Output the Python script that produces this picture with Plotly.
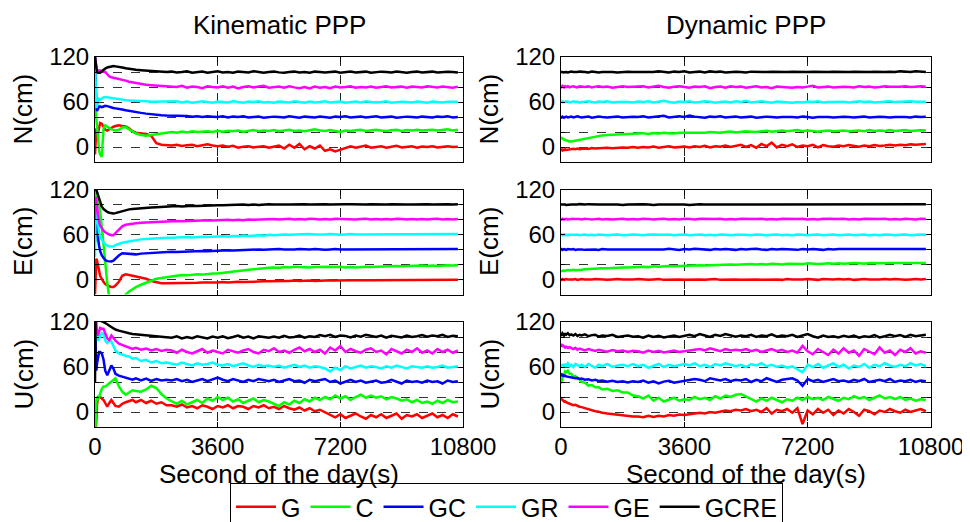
import plotly.graph_objects as go

# ---------------- data ----------------
# sampling times (s of the day, relative)
t_s = [0, 20, 40, 60, 90, 120, 150, 200, 250,
       300, 360, 420, 480, 540, 600, 700, 800, 900,
       1000, 1100, 1200, 1350, 1500, 1650, 1800, 1950, 2100,
       2250, 2400, 2550, 2700, 2850, 3000, 3150, 3300, 3450, 3600,
       3750, 3900, 4050, 4200, 4350, 4500, 4650, 4800, 4950, 5100,
       5250, 5400, 5550, 5700, 5850, 6000, 6150, 6300, 6450, 6600,
       6750, 6900, 7050, 7200, 7350, 7500, 7650, 7800, 7950, 8100,
       8250, 8400, 8550, 8700, 8850, 9000, 9150, 9300, 9450, 9600,
       9750, 9900, 10050, 10200, 10350, 10500, 10650]

series_names = ["G", "C", "GC", "GR", "GE", "GCRE"]
# display offsets (cm) used to stack the series
offsets = [0, 20, 40, 60, 80, 100]
x_tick_vals = [0, 3600, 7200, 10800]
x_tick_text = ["0", "3600", "7200", "10800"]
y_tick_vals = [0, 20, 40, 60, 80, 100, 120]
y_tick_text = ["0", "", "", "60", "", "", "120"]
row_labels = ["N(cm)", "E(cm)", "U(cm)"]
col_titles = ["Kinematic PPP", "Dynamic PPP"]
x_title = "Second of the day(s)"

# ---- Kinematic PPP, N (errors in cm) ----
kin_N_G = [-10, 15, 25, 12, 20, 28, 32, 31, 27,
           23, 22, 24, 26, 27, 28, 29, 28, 27.5,
           25, 21, 19, 18, 17.5, 15, 5, 3, 2.5,
           2, 3, 1.5, 2.5, 3, 1, 2, 3.5, 2, 1,
           2, 0.5, 1.5, -1, 0.5, 1, -0.5, 0, 1, -1,
           0, 2, -2, 3, -1, 4, -3, 1, -2, 2,
           -5, -3, -6, -4, -2, 1, -1, 0, 2, -1,
           0, 1, -1, 0.5, 1.5, -0.5, 0, 1, -1, 0.5,
           0, 1, -0.5, 0, 1, 0, 0.5]
kin_N_C = [40, 30, 15, 0, -15, -25, -30, -33, 5,
           9, 7, 5, 3.5, 3, 2, 3, 6, 6.5,
           4, 1, -2, -4, -5, -4, -3, -1.5, -1,
           0, -1, 0.5, -0.5, 1, 0, 0.5, 1, 0, 1.5,
           0.5, 1.5, 1, 2, 0.5, 1.5, 2.5, 1, 2, 1.5,
           2.5, 1, 2, 3, 1.5, 2, 1, 2.5, 3.5, 2,
           1.5, 2.5, 1, 0, 2, 1.5, 2.5, 3, 1.5, 2,
           3, 2, 1.5, 2.5, 3, 1.5, 2.5, 2, 3, 2,
           2.5, 3, 2, 2.5, 3.5, 2, 3]
kin_N_GC = [80, 40, 15, 8, 12, 14, 14, 13, 14,
            15, 14.5, 14, 13, 12, 11.5, 11, 10, 9,
            8, 7, 6.5, 5.5, 4.5, 3.5, 3, 2.5, 2,
            2, 1.5, 1, 1.5, 0.5, 1, 0, 1, 0.5, 0,
            1, -0.5, 0.5, 0, 1, -0.5, 0, 0.5, -1, 0,
            0.5, 0, -0.5, 1, 0, -1, 0.5, 0, -0.5, 0.5,
            0, -1, 0.5, 0, 1, -0.5, 0, 0.5, -0.5, 0,
            1, -0.5, 0, 0.5, -1, 0, 0.5, 0, -0.5, 0.5,
            0, -0.5, 0.5, 0, 1, -0.5, 0]
kin_N_GR = [55, 20, -8, -5, 2, 4, 3, 5, 6,
            6.5, 6, 5.5, 5, 4.5, 4, 3.5, 3, 2.5,
            2, 2, 1.5, 1, 1, 0.5, 0.5, 0, 0.5,
            0, 1, -0.5, 0.5, -1, 0, 1, 0, -1, 0.5,
            0, -0.5, 1, 0, -1, 0.5, 0, 1, -0.5, 0,
            -1, 0.5, 0, -0.5, 1, 0, -1, 0.5, -0.5, 0,
            1, -0.5, 0, 0.5, -1, 0, 0.5, -0.5, 1, 0,
            -0.5, 0, 1, -1, 0, 0.5, 0, -0.5, 0.5, 0,
            -1, 0.5, 0, -0.5, 0.5, 0, 0.5]
kin_N_GE = [40, 30, 25, 22, 22, 23, 22, 21, 20,
            20, 17, 14, 13, 12.5, 12, 11, 9.5, 8.5,
            7, 6, 5, 4, 3, 2.5, 2, 1.5, 1,
            1, 0, 1.5, -1, 0.5, 0, -1.5, 1, 0, -0.5,
            1, -1, 0.5, -2, 0, 1, -0.5, 0, 1.5, -1,
            0, 0.5, -1, 1, -0.5, -1.5, 0, -2, 0.5, -1,
            0, -1.5, 0.5, -0.5, 0, 1, -1, 0, -0.5, 0.5,
            -1, 0, 1, -0.5, 0, 0.5, -1, 0.5, 0, -0.5,
            1, 0, -0.5, 0.5, 0, -1, 0.5]
kin_N_GCRE = [20, 12, 4, 0, -1, -1.5, -1, 1, 3,
              4.5, 6, 7, 7.5, 8, 7.5, 7, 6, 5,
              4, 3.5, 3, 2.5, 2, 1, 0.5, 1, 0,
              0.5, -0.5, 0, 1, -1, 0, 0.5, -1, 0, 1,
              -0.5, 0, -1, 0.5, 0, -0.5, 1, 0, -1, 0,
              0.5, -0.5, -1, 0, 0.5, -0.5, 0, -1, 0.5, 0,
              -0.5, 0, 0.5, -1, 0, 0.5, -0.5, 0, 0.5, -1,
              0, 0.5, 0, -0.5, 0.5, 0, -1, 0, 0.5, -0.5,
              0, 0.5, -0.5, 0, 0.5, 0, -0.5]

# ---- Kinematic PPP, E ----
kin_E_G = [-20, 25, 28, 25, 20, 12, 5, 0, -3,
           -6, -8, -9, -10, -10, -8, -3, 5, 7,
           6, 5, 4.5, 3, 1, -2, -4, -5, -5,
           -5, -5.5, -5, -4.5, -5, -4.5, -4, -4.5, -4, -4,
           -3.5, -4, -3.5, -3, -3.5, -3, -2.5, -3, -2.5, -2.5,
           -2, -2.5, -2, -2, -1.5, -2, -1.5, -1.5, -2, -1.5,
           -1.5, -1, -1.5, -1, -1.5, -1, -1, -1.5, -1, -1,
           -1, -1.5, -1, -0.5, -1, -1, -0.5, -1, -1, -0.5,
           -1, -0.5, -1, -1, -0.5, -1, -0.5]
kin_E_C = [30, 100, 100, 95, 88, 80, 72, 50, 25,
           0, -25, -45, -55, -60, -60, -55, -47, -40,
           -36, -33, -30, -27, -24, -21, -19, -18, -17,
           -15.5, -15, -14, -14.5, -13.5, -13, -13.5, -12.5, -12, -12,
           -11, -10, -9.5, -8.5, -8, -7, -6.5, -5.5, -5, -4.5,
           -4, -4.5, -3.5, -4, -3, -3.5, -3, -4, -3.5, -3,
           -2.5, -3, -3.5, -3, -4, -3.5, -4, -3.5, -3, -3.5,
           -3, -2.5, -3, -2.5, -2, -2.5, -2, -2.5, -2, -1.5,
           -2, -1.5, -2, -1.5, -1, -1.5, -1]
kin_E_GC = [10, 50, 45, 30, 15, 5, -2, -8, -12,
            -14, -15.5, -16, -16, -15, -12, -8, -5, -5.5,
            -6.5, -7, -6.5, -5.5, -5, -4.5, -4, -4, -3.5,
            -3, -3.5, -3, -2.5, -3, -2.5, -2, -2.5, -2, -1.5,
            -1.5, -1, -1.5, -1, -0.5, -1, -0.5, 0, -0.5, 0,
            0, 0.5, 0, -0.5, 0, 0.5, 0, 0, 0.5, 0,
            -0.5, 0, 0.5, 0, 0, 0.5, 0, -0.5, 0, 0.5,
            0, 0, 0.5, 0, -0.5, 0, 0.5, 0, 0, 0.5,
            0, -0.5, 0, 0.5, 0, 0, 0.5]
kin_E_GR = [-30, 40, 35, 25, 12, 3, -3, -8, -11,
            -13, -15, -16, -16, -16, -14, -12, -11, -10,
            -9, -8, -7, -6.5, -6, -5.5, -5, -5, -4.5,
            -4.5, -4, -4, -3.5, -4, -3.5, -3, -3.5, -3, -3,
            -2.5, -3, -2, -2.5, -1.5, -2, -1.5, -1, -1.5, -0.5,
            -1, -0.5, 0, -0.5, 0, -0.5, 0, 0.5, 0, -0.5,
            0, 0.5, 0, -0.5, 0, 0.5, 0, 0, 0.5, 0,
            0, 0.5, 0, 0, -0.5, 0, 0.5, 0, 0, 0.5,
            0, -0.5, 0, 0.5, 0, 0, 0.5]
kin_E_GE = [0, 30, 24, 15, 5, -3, -8, -12, -15,
            -17, -19, -20, -21, -21, -18, -13, -9, -7,
            -6, -5.5, -5, -4.5, -4, -3.5, -3.5, -3, -3,
            -2.5, -2, -2.5, -2, -1.5, -2, -1.5, -1, -1.5, -1,
            -1.5, -0.5, -1, -0.5, -1, 0, -0.5, 0, -0.5, 0,
            0.5, 0, 0.5, 1, 0, 0.5, 0, 1, 0.5, 0,
            0.5, 0, 1, 0.5, 0, 0.5, 0, 0.5, 1, 0,
            0.5, 0, 0.5, 0, 1, 0.5, 0, 0.5, 0, 0.5,
            0, 0.5, 1, 0, 0.5, 0, 0.5]
kin_E_GCRE = [25, 22, 20, 17, 12, 7, 3, -3, -6,
              -8, -10, -11, -12, -12, -11.5, -10, -8.5, -7.5,
              -6.5, -6, -5.5, -5, -4.5, -4, -3.5, -3, -3,
              -2.5, -2, -2.5, -2, -1.5, -2, -1.5, -1, -1.5, -1,
              -1, -0.5, -1, -0.5, 0, -0.5, 0, -0.5, 0, 0.5,
              0, 0.5, 0, 0, 0.5, 0, 0.5, 0, 0.5, 0,
              0.5, 0, 0.5, 0, 0.5, 0.5, 0, 0.5, 0, 0.5,
              0, 0.5, 0, 0.5, 0, 0.5, 0, 0, 0.5, 0,
              0.5, 0, 0.5, 0, 0.5, 0, 0.5]

# ---- Kinematic PPP, U ----
kin_U_G = [-40, -30, -10, 10, 20, 20, 20, 18, 16,
           12, 7, 12, 16, 12, 8, 7, 11, 13,
           14, 16, 13, 16, 12, 15, 11, 13, 9,
           9, 7, 10, 6, 8, 5, 9, 7, 4, 8,
           6, 9, 5, 8, 7, 4, 8, 6, 9, 5,
           7, 4, 8, 5, 3, 6, 2, 5, 1, 3,
           0, -4, -7, -3, -8, -5, -2, -6, -9, -4,
           -7, -3, -8, -5, -2, -9, -4, -6, -3, -8,
           -5, -2, -7, -4, -8, -3, -6]
kin_U_C = [-60, -20, -5, 0, -4, 0, 5, 11, 14,
           14, 16, 18, 20, 23, 25, 14, 7, 3,
           6, 9, 8, 7, 10, 15, 12, 4, -2,
           -6, -9, -5, -10, -7, -4, -8, -2, -5, 0,
           -4, -1, -6, -3, -8, -5, -2, -7, -4, -6,
           -9, -12, -7, -10, -5, -8, -3, -6, -1, -4,
           0, -3, 2, -2, 1, -4, 0, 3, -1, 2,
           -1, 1, -3, 0, -2, -5, -3, -7, -4, -8,
           -6, -9, -5, -8, -4, -7, -6]
kin_U_GC = [80, 30, 15, 25, 35, 40, 40, 38, 30,
            15, 9, 15, 22, 18, 11, 8.5, 7, 6,
            5, 3, 5, 2, 4.5, 1.5, 4, 2, 3,
            2, 4, 1, 3, 0, 2, 4, 1, 3, 6,
            3, 1, 4, 2, 0, 3, 1, 4, 2, 1,
            3, 0, 2, 4, 1, 2, -1, 3, 1, 2,
            4, 0, 2, -2, 1, 3, 0, 2, -1, 1,
            2, -1, 0, 3, 1, -2, 2, 0, 1, -1,
            2, 0, 1, -2, 2, 0, 1]
kin_U_GR = [40, 55, 45, 40, 35, 38, 42, 45, 44,
            35, 32, 36, 34, 28, 22, 18, 16, 15,
            14, 11, 12, 8, 9.5, 6, 8, 5, 6,
            5, 3, 6, 4, 2, 5, 3, 4, 6, 3,
            2, 4, 1, 3, 5, 2, 0, 3, 1, 2,
            0, 2, -1, 1, 3, 0, 2, -1, 1, 0,
            -2, -6, -1, -4, 1, -2, 0, 2, -1, 1,
            0, -2, 1, -1, 2, 0, -2, 1, 0, -1,
            1, -1, 0, 2, -1, 0, 1]
kin_U_GE = [30, 60, 40, 25, 22, 28, 32, 31, 31,
            25, 18, 16, 22, 19, 15, 11, 9, 7,
            6, 4, 5.5, 3, 4.5, 2, 4, 1.5, 3,
            2, -1, 3, 0, -2, 1, 4, -1, 2, 0,
            -2, 3, 1, -1, 2, 4, 0, -2, 3, 1,
            5, 0, 2, -1, 3, 6, 1, 4, 0, 3,
            -2, 6, 2, 8, 0, 4, 1, -1, 3, 5,
            0, 2, -3, 4, 1, -2, 3, 0, 5, -1,
            2, -2, 4, 0, 3, -1, 2]
kin_U_GCRE = [-60, 40, 30, 24, 23, 22, 22, 21, 20,
              18, 17, 15, 13, 12, 10, 8.5, 7, 6,
              5, 4, 3.5, 3, 2, 1.5, 1, 0, -0.5,
              -1, 1, -2, 0, -1.5, 1, -1, -2, 0.5, -1,
              1, -1.5, 0, 2, -1, 0.5, -2, 1, 0, -1,
              0.5, -1, 1.5, -0.5, 0, 2, -1, 1, 0, 2.5,
              1, 3, 0, 2, 1.5, -0.5, 2, 0.5, 3, 1,
              0, 2, -1, 1.5, 0.5, -0.5, 2, 0, 1, 2.5,
              0.5, 2, 1, 3, 0, 1.5, 1]

# ---- Dynamic PPP, N ----
dyn_N_G = [-4, -3.5, -4.5, -3.5, -4, -3, -4, -3.5, -3,
           -3.5, -2.5, -3, -2, -3, -2.5, -2, -2.5, -1.5,
           -2, -1.5, -2, -1, -1.5, -1, -0.5, -1, 0,
           -1, 0, -0.5, 0.5, -1, 0, 1, -0.5, 0, 0.5,
           -0.5, 1, 0, 1.5, -0.5, 1, 0.5, 2, 0, 1.5,
           3, 0, 2.5, -1, 4, 1, 6, -0.5, 3, 1,
           3.5, 0, 2, 1, 3, -0.5, 2.5, 1, 0.5, 2,
           1, 2.5, 1.5, 0.5, 2, 1, 2.5, 1.5, 2, 3,
           2, 3, 2.5, 3.5, 3, 4, 4]
dyn_N_C = [-7, -8, -9, -9.5, -10, -10.5, -11, -12, -12.5,
           -12.5, -12, -11.5, -11, -10, -9.5, -8.5, -7.5, -6.5,
           -6, -5, -4.5, -4, -3.5, -3, -3, -2.5, -2.5,
           -2, -1.5, -2.5, -1.5, -2, -1, -1.5, -2, -1, -1,
           -0.5, -1.5, -0.5, -1, 0, -0.5, -1, 0, 0.5, -0.5,
           0, 1, 0.5, 0, 1, 1.5, 0.5, 1, 2, 1,
           1.5, 2.5, 1, 2, 1.5, 0.5, 1.5, 2, 1, 1.5,
           2, 1, 1.5, 2, 1, 2.5, 1.5, 2, 1.5, 2.5,
           1.5, 2, 2.5, 1.5, 2, 2.5, 2]
dyn_N_GC = [0, -0.5, 0.5, 0, -1, 0, 0.5, -0.5, 0,
            0.5, -0.5, 0, 1, 0, -0.5, 0, 0.5, -1,
            0, 0.5, 0, -0.5, 0, 0.5, -0.5, 0, 0.5,
            0, 1, -0.5, 0, 0.5, 1.5, -0.5, 0, 1, 0,
            2, 0.5, 0, -1, 0.5, 0, 1, -0.5, 0, 0.5,
            -0.5, 0, 0.5, -1, 0, 0.5, 0, -0.5, 0, 0.5,
            0, -0.5, 0.5, 0, -1, 0, 0.5, 0, -0.5, 0,
            0.5, 0, -0.5, 0, 0.5, -0.5, 0, 0.5, 0, -0.5,
            0, 0.5, 0, -0.5, 0.5, 0, 0.5]
dyn_N_GR = [0.5, 1, 0, 0.5, -0.5, 0, 1, 0.5, -0.5,
            0, 1, 0, 0.5, -1, 0, 0.5, 1, 0,
            -0.5, 0.5, 0, 1, -0.5, 0, 0.5, 0, -0.5,
            0.5, 0, 1, -0.5, 0, 1.5, 0, -1, 0.5, 0,
            1, -0.5, 0, 1, 0.5, -1, 0, 0.5, -0.5, 1,
            0, 1.5, -0.5, 0, 1, 0, -1, 0.5, 0, -0.5,
            -1, 0, -0.5, 0.5, 0, 1, -0.5, 0, 0.5, 0,
            0.5, -0.5, 0, 1, 0, 0.5, -0.5, 0, 0.5, 1,
            0, 0.5, 0, 1, 0.5, 0, 0.5]
dyn_N_GE = [1, 0, 1.5, 0.5, -0.5, 1, 0, 1, -0.5,
            0.5, 1, 0, -0.5, 1, 0.5, 0, 1, -0.5,
            0.5, 1, 0, 0.5, -1, 0.5, 1, 0, 0.5,
            0, 1, -0.5, 0.5, 1.5, 0, -1, 0.5, 1, 0,
            -1, 0.5, 0, 1, -1.5, 0, 0.5, -1, 1, 0,
            0.5, -1, 0, 1, -0.5, 0, -1.5, 0.5, 0, -0.5,
            -1, 0, -0.5, 0.5, 1.5, -0.5, 0, 0.5, -0.5, 0,
            0.5, 0, -0.5, 1, 0, 0.5, -0.5, 0, 1, 0.5,
            0, 0.5, 1, 0, 0.5, 1, 0.5]
dyn_N_GCRE = [0, 0.5, 0, -0.5, 0, 0.5, 0, -0.5, 0,
              0.5, 0, -0.5, 0, 0.5, 0, 0, -0.5, 0.5,
              0, -0.5, 0, 0.5, 0, -0.5, 0, 0.5, 0,
              0, 0.5, -0.5, 0, 1, 0, -0.5, 0.5, 0, 1,
              -0.5, 0, 0.5, -0.5, 1, 0, 0.5, -0.5, 0, 0.5,
              0, -0.5, 0.5, 0, -0.5, 0, 0.5, 0, -0.5, 0,
              0.5, 0, -0.5, 0, 0.5, 0, -0.5, 0, 0.5, 0,
              -0.5, 0, 0.5, 0, -0.5, 0, 0.5, 0, 0, 0.5,
              0, 1, 0.5, 0, 1, 0.5, 0]

# ---- Dynamic PPP, E ----
dyn_E_G = [0, -0.5, 0.5, 0, -0.5, 0, 0.5, 0, -0.5,
           0, 0, 0.5, -0.5, 0, 0.5, 0, -0.5, 0,
           0.5, 0, 0, -0.5, 0, 0.5, 0, -0.5, 0,
           0.5, 0, -0.5, 0, 0.5, -0.5, 0, 0.5, 0, -0.5,
           0, 0.5, 0, -0.5, 0, 0.5, -0.5, 0, 0.5, 0,
           -0.5, 0, 0.5, 0, -0.5, 0, 0.5, 0, -0.5, 0.5,
           0, -0.5, 0, 0.5, 0, -0.5, 0.5, 0, 0, 0.5,
           0, 0.5, -0.5, 0, 0.5, 0, -0.5, 0, 0.5, 0,
           0.5, 0, -0.5, 0, 0.5, 0, 0.5]
dyn_E_C = [-9, -8.5, -9, -8, -8.5, -8, -8.5, -7.5, -8,
           -7.5, -7, -7.5, -7, -6.5, -7, -6.5, -6, -6,
           -5.5, -5.5, -5, -5, -4.5, -4.5, -4, -4, -3.5,
           -3.5, -3, -3.5, -2.5, -3, -2.5, -2, -2.5, -2, -1.5,
           -2, -1.5, -1, -1.5, -1, -0.5, -1, -0.5, 0, -0.5,
           0, -0.5, 0.5, 0, 0.5, 0, 1, 0.5, 0, 1,
           0.5, 1, 0.5, 1.5, 1, 0.5, 1, 1.5, 1, 1.5,
           1, 1.5, 2, 1.5, 1, 2, 1.5, 2, 1.5, 2,
           2, 1.5, 2, 2.5, 2, 1.5, 2]
dyn_E_GC = [0, 0.5, -0.5, 0, 0.5, 0, -0.5, 0.5, 0,
            0, 0.5, -0.5, 0, 0.5, 0, -0.5, 0, 0.5,
            0, -0.5, 0.5, 0, 0, 0.5, -0.5, 0, 0.5,
            0, 0.5, 0, -0.5, 0.5, 0, 1, 0, -0.5, 0.5,
            0, 1, 0.5, 0, -0.5, 0.5, 0, 0.5, 0, -0.5,
            0.5, 0, 0.5, 1, 0, -0.5, 0.5, 0, 0.5, 0,
            0, -0.5, 0.5, 0, 0.5, 0, -0.5, 0.5, 0, 0.5,
            0.5, 0, 0, 0.5, -0.5, 0, 0.5, 0, 0.5, 0,
            0, 0.5, 0, -0.5, 0.5, 0, 0.5]
dyn_E_GR = [-0.5, 0, -1, -0.5, 0, -1, -0.5, -1, 0,
            -0.5, -1, -0.5, 0, -1, -0.5, 0, -1, -0.5,
            -1, 0, -0.5, -1, -0.5, 0, -1, -0.5, 0,
            -0.5, -1, 0, -0.5, -1, -0.5, 0, -1, -0.5, 0,
            -1, -0.5, 0, -1, -0.5, -1, 0, -0.5, -1, -0.5,
            0, -0.5, -1, 0, -0.5, -1, -0.5, 0, -1, -0.5,
            -1, 0, -0.5, -1, -0.5, 0, -1, -0.5, 0, -1,
            -0.5, 0, -1, -0.5, 0, -1, -0.5, -1, 0, -0.5,
            -1, -0.5, 0, -1, -0.5, 0, -0.5]
dyn_E_GE = [0.5, 0, 1, 0.5, 0, 0.5, 1, 0, 0.5,
            0, 1, 0.5, 0, 0.5, 0, 1, 0.5, 0,
            0.5, 1, 0, 0.5, 0, 0.5, 1, 0, 0.5,
            0, 1, 0.5, 0, 0.5, 1, 0, 0.5, 0, 1,
            0.5, 0, 1, 0.5, 0, 0.5, 1, 0, 0.5, 0,
            1, 0.5, 0, 0.5, 1, 0, 0.5, 0, 1, 0.5,
            0, 0.5, 1, 0, 0.5, 0, 1, 0.5, 0, 0.5,
            1, 0, 0.5, 0, 1, 0.5, 0, 0.5, 1, 0,
            0.5, 0, 1, 0.5, 0, 1, 0.5]
dyn_E_GCRE = [0, 0.5, 0, 0, 0.5, 0, -0.5, 0, 0.5,
              0, 0, -0.5, 0, 0.5, 0, 0, 0.5, 0,
              -0.5, 0, 0, 0.5, 0, 0, -0.5, 0, 0.5,
              0, 0.5, 0, -0.5, 0, 0.5, 0, 0, 0.5, 0,
              -0.5, 0, 0.5, 0, 0, -0.5, 0, 0.5, 0, 0,
              0.5, 0, -0.5, 0, 0.5, 0, 0, -0.5, 0, 0.5,
              0, 0, 0.5, 0, -0.5, 0, 0.5, 0, 0, -0.5,
              0, 0.5, 0, 0, -0.5, 0, 0.5, 0, 0, 0.5,
              0, -0.5, 0, 0.5, 0, 0, 0.5]

# ---- Dynamic PPP, U ----
dyn_U_G = [18, 17, 16, 15.5, 14, 14.5, 13, 12, 11,
           10.5, 9, 9.5, 8, 7, 6.5, 5, 3, 2,
           1, 0.5, -1, -2, -3, -4, -5, -5.5, -6,
           -6, -7, -5, -6.5, -5, -6, -4, -5, -3.5, -4,
           -3, -2, -1, -2, 0, -1, 1, 2, 1, 3,
           2, 4, 1, 3, 0, 5, -2, 3, 1, 4,
           -1, 5, -16, 2, -3, 4, -1, 3, -4, 2,
           -2, 4, 0, -5, 3, 1, -3, 2, 0, 4,
           1, -1, 3, 0, 2, 4, 1]
dyn_U_C = [18, 23, 25, 30, 30, 34, 33, 35, 31,
           31, 27, 28, 24, 24, 20, 19, 15, 16,
           13, 13, 10, 11, 8, 9, 6, 6, 2,
           1, -2, 2, -5, -1, -6, -3, -1, -5, -3,
           -4, 0, -3, -1, -4, 1, -2, 2, 0, 3,
           4, 1, -3, -6, -2, -5, -1, -4, -7, -3,
           -5, -1, -4, 0, -3, -1, -4, 0, -2, -5,
           -1, -3, 1, -2, 0, -4, -1, 2, -2, 0,
           -3, 0, -4, -2, -5, -3, -4]
dyn_U_GC = [9, 10, 8.5, 9, 8, 8.5, 7.5, 7, 6.5,
            6, 5.5, 5, 5.5, 4, 4.5, 3, 3.5, 2,
            3, 1.5, 2, 0.5, 1.5, 0, 1, -0.5, 1,
            0, 2, -1, 1, -2, 0.5, 1.5, -1, 0, 1,
            2, 4, 3, 1, 5, 3, 2, 4, 1, 3,
            2, 4, 0, 3, 1, 5, 2, 0, 3, 4,
            5, 2, -5, 4, 1, 3, 0, 2, 4, 1,
            2, 0, 3, 1, 4, 0, 2, 3, 1, 4,
            0, 2, 1, 3, 0, 2, 1]
dyn_U_GR = [3, 1, 4, 2, 0, 3, 2, 5, 1,
            3, 0, 4, 2, 1, 3, 0, 4, 2,
            -1, 3, 1, 4, 0, 2, 3, 1, 4,
            1, 3, -1, 2, 4, 0, 3, 1, 2, 4,
            2, 5, 1, 3, 0, 4, 2, 5, 3, 1,
            3, 0, 4, 2, 5, 1, 3, 0, 2, -1,
            1, -3, -7, 3, 0, 4, -1, 2, 5, 0,
            3, -2, 2, 0, 4, -1, 3, 1, 5, 2,
            0, 3, 1, 5, 2, 4, 1]
dyn_U_GE = [8, 9, 7, 8.5, 7.5, 6, 7, 5.5, 6.5,
            5, 4, 5.5, 3, 4.5, 3.5, 2, 4, 3,
            1.5, 3, 2, 0.5, 2.5, 1, 2, 0, 1.5,
            1, -1, 2, 0, 1.5, -0.5, 1, 2, 0, 1,
            2, 3, 4, 2, 5, 3, 1, 4, 2, 3,
            2, 4, 1, 3, 0, 2, 4, 1, 3, 0,
            2, -1, 8, 1, -3, 4, 0, -4, 3, -2,
            5, -1, 2, -5, 4, 0, -3, 6, -1, 2,
            -4, 3, 0, 5, -2, 1, -1]
dyn_U_GCRE = [4, 3, 5, 3.5, 2, 4, 3, 5, 2.5,
              3.5, 2, 4, 1.5, 3, 2, 3.5, 1, 2.5,
              3, 0.5, 2, 1.5, 3, 0, 1.5, 2, 0.5,
              1, -1, 2, 0, 1.5, -0.5, 1, 2, 0, 1,
              3, 1, 4, 2, 0, 3, 1.5, 4, 2, 0.5,
              2, 1, 3, 0, 2, 1, 3.5, 0.5, 2, 1,
              3, 0, 2, 4, 1, -1, 2, 0, 1, -0.5,
              1.5, 0, 2, -1, 1, 0, 2.5, -0.5, 1, 3,
              1, 2.5, 0, 3, 1, 2, 3]

kin_panels = [
    [kin_N_G, kin_N_C, kin_N_GC, kin_N_GR, kin_N_GE, kin_N_GCRE],
    [kin_E_G, kin_E_C, kin_E_GC, kin_E_GR, kin_E_GE, kin_E_GCRE],
    [kin_U_G, kin_U_C, kin_U_GC, kin_U_GR, kin_U_GE, kin_U_GCRE],
]
dyn_panels = [
    [dyn_N_G, dyn_N_C, dyn_N_GC, dyn_N_GR, dyn_N_GE, dyn_N_GCRE],
    [dyn_E_G, dyn_E_C, dyn_E_GC, dyn_E_GR, dyn_E_GE, dyn_E_GCRE],
    [dyn_U_G, dyn_U_C, dyn_U_GC, dyn_U_GR, dyn_U_GE, dyn_U_GCRE],
]

# ---------------- style ----------------
colors = ["#FF0000", "#00FF00", "#0000FF", "#00FFFF", "#FF00FF", "#000000"]
FONT = "Liberation Sans, Arial, sans-serif"
OFF = 8                      # page body margin of the html page
W, H = 970 - OFF, 522 - OFF  # figure size so it fits the window
FS = 24

# target window-pixel layout of the plot areas
x_px = [(95, 463), (561, 931)]
y_px = [(57, 162), (189.5, 294.5), (322, 427)]


def px_x(p):
    return (p - OFF) / W


def px_y(p):
    return 1 - (p - OFF) / H


fig = go.Figure()
layout = dict(
    width=W, height=H,
    margin=dict(l=0, r=0, t=0, b=0, autoexpand=False),
    paper_bgcolor="white", plot_bgcolor="white",
    font=dict(family=FONT, size=FS, color="black"),
    showlegend=True,
)

for r in range(3):
    for c in range(2):
        k = r * 2 + c + 1
        sfx = "" if k == 1 else str(k)
        data = kin_panels[r] if c == 0 else dyn_panels[r]
        for i, vals in enumerate(data):
            assert len(vals) == len(t_s), (r, c, i, len(vals))
            fig.add_trace(go.Scatter(
                x=t_s, y=[v + offsets[i] for v in vals],
                mode="lines", name=series_names[i],
                line=dict(color=colors[i], width=2.5),
                xaxis="x" + sfx, yaxis="y" + sfx,
                showlegend=(k == 1), hoverinfo="skip",
            ))
        xd = [px_x(x_px[c][0]), px_x(x_px[c][1])]
        yd = [px_y(y_px[r][1]), px_y(y_px[r][0])]
        layout["xaxis" + sfx] = dict(
            domain=xd, range=[0, 10800], anchor="y" + sfx, automargin=False,
            tickmode="array", tickvals=x_tick_vals, ticktext=x_tick_text,
            showticklabels=(r == 2), ticks="inside", ticklen=5, tickcolor="black",
            showline=True, linecolor="black", linewidth=1, mirror="ticks",
            showgrid=True, gridcolor="#222222", gridwidth=1, griddash="dash",
            zeroline=False, tickfont=dict(size=FS), ticklabelstandoff=-2,
        )
        layout["yaxis" + sfx] = dict(
            domain=yd, range=[-20, 120], anchor="x" + sfx, automargin=False,
            tickmode="array", tickvals=y_tick_vals, ticktext=y_tick_text,
            ticks="inside", ticklen=4, tickcolor="black",
            showline=True, linecolor="black", linewidth=1, mirror="ticks",
            showgrid=True, gridcolor="#333333", gridwidth=0.8, griddash="dash",
            zeroline=False, tickfont=dict(size=FS),
        )

annotations = []
for c in range(2):
    xc = px_x((x_px[c][0] + x_px[c][1]) / 2)
    annotations.append(dict(text=col_titles[c], x=xc, y=px_y(25),
                            xref="paper", yref="paper", showarrow=False,
                            xanchor="center", yanchor="middle",
                            font=dict(size=26)))
    annotations.append(dict(text=x_title, x=xc, y=px_y(474),
                            xref="paper", yref="paper", showarrow=False,
                            xanchor="center", yanchor="middle",
                            font=dict(size=26)))
    for r in range(3):
        yc = px_y((y_px[r][0] + y_px[r][1]) / 2)
        annotations.append(dict(text=row_labels[r], x=px_x(x_px[c][0] - 72), y=yc,
                                xref="paper", yref="paper", showarrow=False,
                                xanchor="center", yanchor="middle",
                                textangle=-90, font=dict(size=26)))
layout["annotations"] = annotations
layout["legend"] = dict(
    orientation="h", x=px_x(230), y=px_y(483), xanchor="left", yanchor="top",
    bordercolor="black", borderwidth=1, bgcolor="white",
    font=dict(size=25), itemwidth=40,
)
fig.update_layout(**layout)
fig.write_html("out.html")
